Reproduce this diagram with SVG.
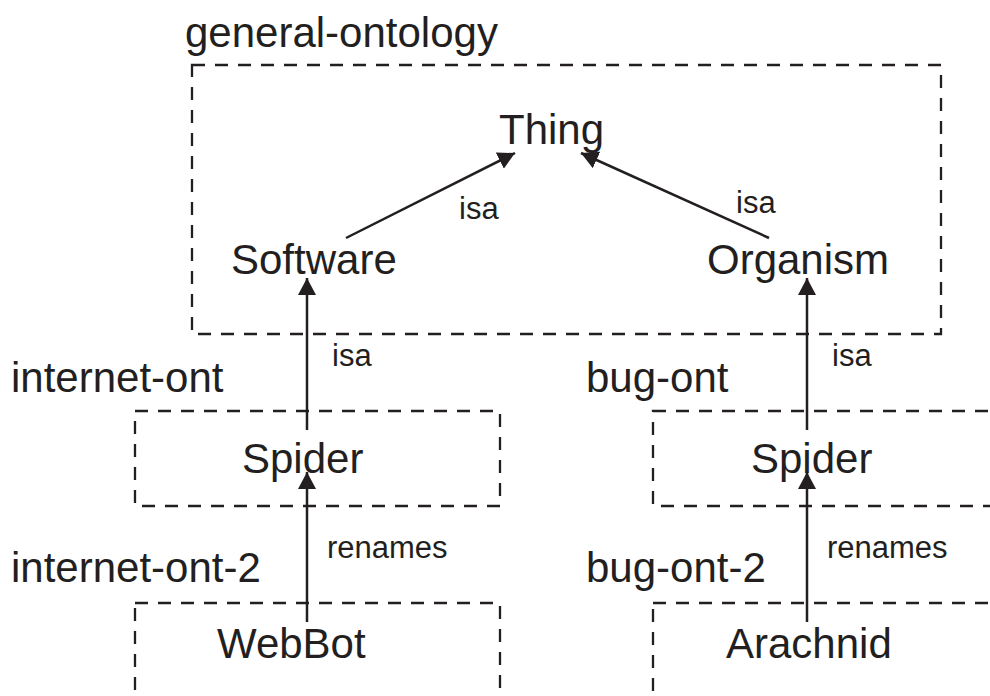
<svg xmlns="http://www.w3.org/2000/svg" width="990" height="696" viewBox="0 0 990 696">
<style>
.box{fill:none;stroke:#231f20;stroke-width:2.3;stroke-dasharray:13 10}
.big{font-family:"Liberation Sans",Arial,sans-serif;font-size:42px;fill:#231f20}
.small{font-family:"Liberation Sans",Arial,sans-serif;font-size:31px;fill:#231f20}
.edge{stroke:#231f20;stroke-width:2.5;fill:none;marker-end:url(#arr)}
</style>
<defs>
<marker id="arr" viewBox="0 0 17 18" refX="17" refY="9" markerWidth="17" markerHeight="18" markerUnits="userSpaceOnUse" orient="auto">
<path d="M0,0 L17,9 L0,18 z" fill="#231f20"/>
</marker>
</defs>
<rect width="990" height="696" fill="#ffffff"/>
<g id="general-ontology">
<rect class="box" x="192" y="65" width="749" height="269"/>
<text class="big" x="185" y="47">general-ontology</text>
</g>
<g id="internet-ont">
<rect class="box" x="135" y="411" width="365" height="95"/>
<text class="big" x="11" y="392">internet-ont</text>
</g>
<g id="bug-ont">
<rect class="box" x="653" y="411" width="400" height="95"/>
<text class="big" x="586" y="392">bug-ont</text>
</g>
<g id="internet-ont-2">
<rect class="box" x="135" y="603" width="365" height="150"/>
<text class="big" x="11" y="582">internet-ont-2</text>
</g>
<g id="bug-ont-2">
<rect class="box" x="653" y="603" width="400" height="150"/>
<text class="big" x="586" y="582">bug-ont-2</text>
</g>
<g id="thing"><text class="big" x="499" y="144">Thing</text></g>
<g id="software"><text class="big" x="231" y="274">Software</text></g>
<g id="organism"><text class="big" x="707" y="274">Organism</text></g>
<g id="spider-internet"><text class="big" x="242" y="473">Spider</text></g>
<g id="spider-bug"><text class="big" x="751" y="473">Spider</text></g>
<g id="webbot"><text class="big" x="217" y="658">WebBot</text></g>
<g id="arachnid"><text class="big" x="726" y="658">Arachnid</text></g>
<g id="connectors">
<line class="edge" x1="346" y1="238" x2="515" y2="153"/>
<line class="edge" x1="769" y1="238" x2="581" y2="153"/>
<line class="edge" x1="307" y1="430" x2="307" y2="278"/>
<line class="edge" x1="807" y1="430" x2="807" y2="278"/>
<line class="edge" x1="307" y1="622" x2="307" y2="472"/>
<line class="edge" x1="807" y1="622" x2="807" y2="472"/>
<text class="small" x="459" y="219">isa</text>
<text class="small" x="736" y="213">isa</text>
<text class="small" x="332" y="366">isa</text>
<text class="small" x="832" y="366">isa</text>
<text class="small" x="327" y="558">renames</text>
<text class="small" x="827" y="558">renames</text>
</g>
</svg>
